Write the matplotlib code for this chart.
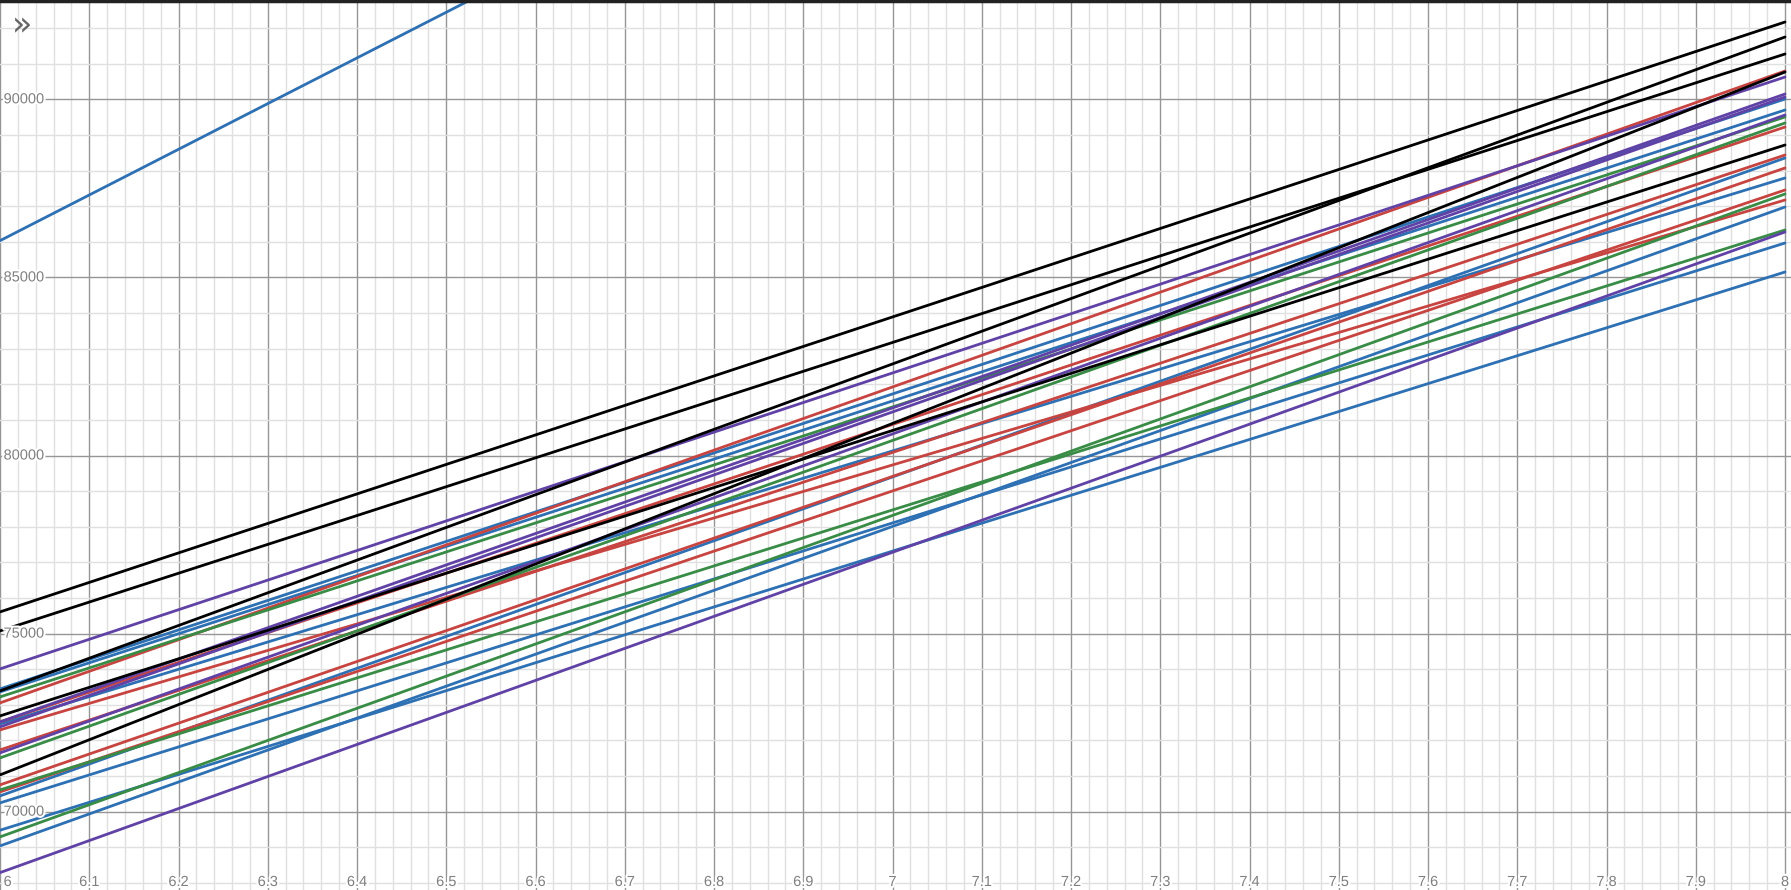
import matplotlib
matplotlib.use("Agg")
import matplotlib.pyplot as plt
import matplotlib.patheffects as pe
import numpy as np

# x range of every line (they are straight, so two ends are enough)
x_ends = [6, 8]

# values at x=6 and x=8, grouped by colour
black_start = [75609, 75075, 73391, 72689, 71033]
black_end = [92170, 91272, 91749, 88717, 90766]

red_start = [73054, 72521, 71735, 72296, 70753, 70556]
red_end = [90794, 89222, 88436, 87173, 88072, 87454]

green_start = [73222, 71510, 70612, 69293]
green_end = [89503, 89335, 86331, 87342]

purple_start = [74009, 72521, 72381, 71651, 68290]
purple_end = [90626, 90149, 90065, 89559, 86275]

blue_start = [86031, 73447, 73363, 72465, 70443, 70247, 69040, 69480]
blue_end = [111683, 90008, 89700, 87791, 88353, 85966, 86977, 85152]

x_ticks = [6.1, 6.2, 6.3, 6.4, 6.5, 6.6, 6.7, 6.8, 6.9, 7, 7.1, 7.2, 7.3, 7.4,
           7.5, 7.6, 7.7, 7.8, 7.9, 8]
x_labels = ["6.1", "6.2", "6.3", "6.4", "6.5", "6.6", "6.7", "6.8", "6.9", "7",
            "7.1", "7.2", "7.3", "7.4", "7.5", "7.6", "7.7", "7.8", "7.9", "8"]
y_ticks = [70000, 75000, 80000, 85000, 90000]
y_labels = ["70000", "75000", "80000", "85000", "90000"]

colors = {"blue": "#2d70b3", "red": "#c74440", "green": "#388c46",
          "purple": "#6042a6", "black": "#000000"}

fig = plt.figure(figsize=(17.91, 8.90), dpi=100)
ax = fig.add_axes([0, 0, 1, 1])
ax.set_xlim(6, 8.0067)
ax.set_ylim(67802, 92788)

# desmos style grid
ax.set_xticks(np.arange(6, 8.01, 0.1))
ax.set_xticks(np.arange(6, 8.01, 0.02), minor=True)
ax.set_yticks(y_ticks)
ax.set_yticks(np.arange(68000, 93000, 1000), minor=True)
ax.grid(which="minor", color="#e0e0e0", lw=1)
ax.grid(which="major", color="#969696", lw=1)
ax.set_axisbelow(True)
ax.tick_params(which="both", length=0, labelbottom=False, labelleft=False)
for s in ax.spines.values():
    s.set_visible(False)

groups = [("blue", blue_start, blue_end), ("red", red_start, red_end),
          ("green", green_start, green_end), ("purple", purple_start, purple_end),
          ("black", black_start, black_end)]
for name, starts, ends in groups:
    for a, b in zip(starts, ends):
        ax.plot(x_ends, [a, b], color=colors[name], lw=2.0, solid_capstyle="round")

# axis labels drawn at the edges like desmos does
halo = [pe.withStroke(linewidth=3, foreground="white")]
lab_style = dict(fontsize=10.5, color="#808080", family="Liberation Sans",
                 path_effects=halo, zorder=5)
for xv, lab in zip(x_ticks, x_labels):
    ax.text(xv, 0.009, lab, transform=ax.get_xaxis_transform(), ha="center",
            va="center", **lab_style)
# the "6" sits on the left edge, desmos pushes it inside the view
fig.text(0.002, 0.009, "6", ha="left", va="center", **lab_style)
for yv, lab in zip(y_ticks, y_labels):
    ax.text(0.002, yv, lab, transform=ax.get_yaxis_transform(), ha="left", va="center",
            **lab_style)

# top border and the collapsed-panel button
fig.add_artist(plt.Line2D([0, 1], [0.9985, 0.9985], color="#222222", lw=2.5,
                          transform=fig.transFigure))
fig.text(0.0065, 0.971, "\u00bb", fontsize=24, color="#666666", ha="left", va="center")

fig.savefig("out.png", dpi=100)
